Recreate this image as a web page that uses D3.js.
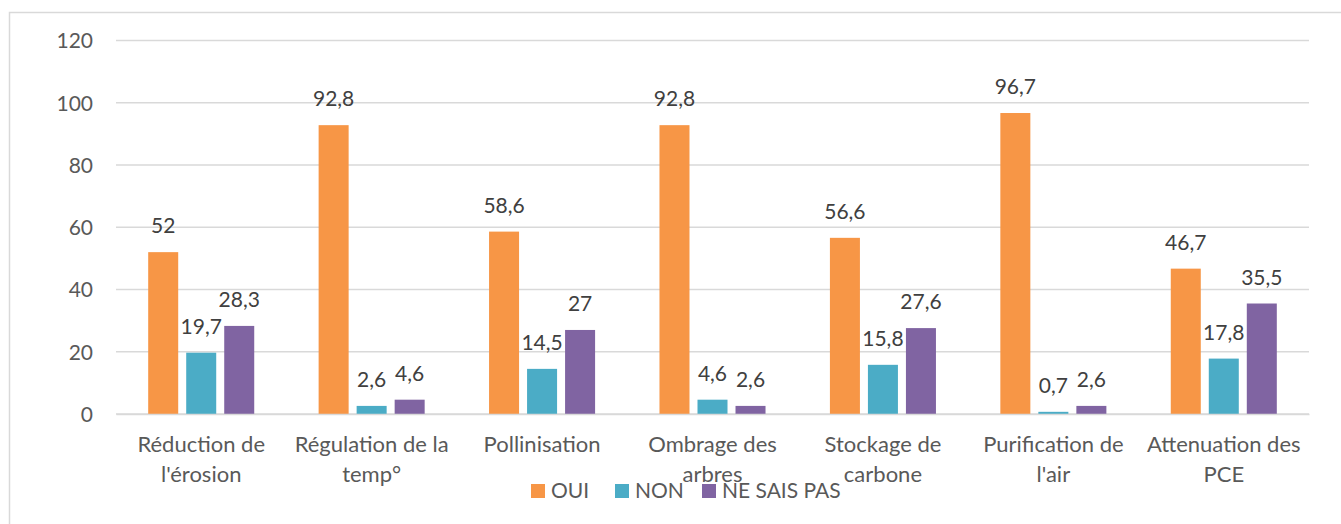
<!DOCTYPE html>
<html><head><meta charset="utf-8">
<script src="https://cdn.jsdelivr.net/npm/d3@7"></script>
<style>body{margin:0;background:#fff}svg{display:block}text{font-family:Lato,"Open Sans",sans-serif}</style>
</head><body>
<svg id="c" width="1341" height="524"></svg>
<script>
const categories = ["Réduction de\nl'érosion","Régulation de la\ntemp°","Pollinisation","Ombrage des\narbres","Stockage de\ncarbone","Purification de\nl'air","Attenuation des\nPCE"];
const seriesNames = ["OUI","NON","NE SAIS PAS"];
const oui = [52,92.8,58.6,92.8,56.6,96.7,46.7];
const non = [19.7,2.6,14.5,4.6,15.8,0.7,17.8];
const nsp = [28.3,4.6,27,2.6,27.6,2.6,35.5];
const yTicks = [0,20,40,60,80,100,120];
const colors = ["#F79646","#4BACC6","#8064A2"];
const seriesValues = [oui,non,nsp];

const FS = 21;
const svg = d3.select("#c");
svg.append("rect").attr("x",9.5).attr("y",12.5).attr("width",1340).attr("height",520)
  .attr("fill","none").attr("stroke","#d9d9d9").attr("stroke-width",1.5);

const x0 = d3.scaleBand().domain(categories).range([116,1309]).padding(0);
const x1 = d3.scaleBand().domain(seriesNames).range([0,x0.bandwidth()]).paddingInner(8/38).paddingOuter(0.847);
const y = d3.scaleLinear().domain([0,120]).range([414,40.5]);

const grid = svg.append("g");
grid.selectAll("line").data(yTicks).join("line")
  .attr("x1",116).attr("x2",1309).attr("y1",d=>y(d)).attr("y2",d=>y(d))
  .attr("stroke","#d9d9d9").attr("stroke-width",1.5);

const yAxis = svg.append("g").attr("transform","translate(93,0)")
  .call(d3.axisLeft(y).tickValues(yTicks).tickSize(0).tickPadding(0).tickFormat(d3.format("d")));
yAxis.select(".domain").remove();
yAxis.selectAll("text").attr("font-size",FS).attr("fill","#595959").attr("dy","0.35em").style("font-family","Lato");

const groups = svg.append("g").selectAll("g").data(categories).join("g")
  .attr("transform",d=>`translate(${x0(d)},0)`);
const fmt = v => String(v).replace(".",",");
groups.each(function(c,i){
  const g = d3.select(this);
  const data = seriesNames.map((s,k)=>({s,v:seriesValues[k][i],k}));
  g.selectAll("rect").data(data).join("rect")
    .attr("x",d=>x1(d.s)).attr("width",x1.bandwidth())
    .attr("y",d=>y(d.v)).attr("height",d=>y(0)-y(d.v))
    .attr("fill",d=>colors[d.k]);
  g.selectAll("text").data(data).join("text")
    .attr("x",d=>x1(d.s)+x1.bandwidth()/2).attr("y",d=>y(d.v)-19)
    .attr("text-anchor","middle").attr("font-size",FS).attr("fill","#404040")
    .text(d=>fmt(d.v));
});

const xAxis = svg.append("g").attr("transform","translate(0,414)")
  .call(d3.axisBottom(x0).tickSize(0).tickFormat(""));
xAxis.select(".domain").attr("stroke","#d9d9d9").attr("stroke-width",1.5);
xAxis.selectAll(".tick").each(function(d){
  const t = d3.select(this).append("text").attr("text-anchor","middle")
    .attr("font-size",22).attr("fill","#595959");
  d.split("\n").forEach((line,j)=>{
    t.append("tspan").attr("x",0).attr("y",38+j*30).text(line);
  });
});

const legX = [531,615,702];
const leg = svg.append("g").selectAll("g").data(seriesNames).join("g")
  .attr("transform",(d,i)=>`translate(${legX[i]},484)`);
leg.append("rect").attr("width",14).attr("height",14).attr("fill",(d,i)=>colors[i]);
leg.append("text").attr("x",20).attr("y",14).attr("font-size",FS).attr("fill","#595959").text(d=>d);
</script>
</body></html>
